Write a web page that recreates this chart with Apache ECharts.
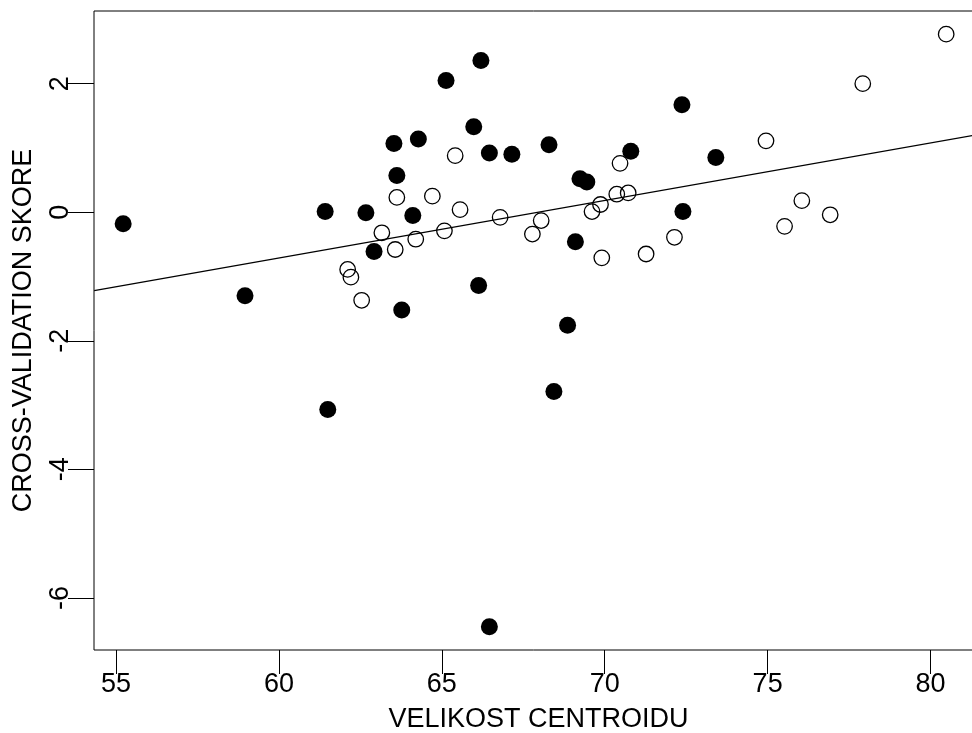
<!DOCTYPE html>
<html>
<head>
<meta charset="utf-8">
<script src="https://cdn.jsdelivr.net/npm/echarts@6/dist/echarts.min.js"></script>
<style>
  html, body { margin: 0; padding: 0; background: #fff; }
  #chart_1 { width: 972px; height: 733px; }
</style>
</head>
<body>
<div id="chart_1"></div>
<script>
// filled points
var filledX = [55.22, 58.96, 61.42, 61.50, 62.67, 62.92, 63.53, 63.62, 63.77, 64.11, 64.28, 65.13, 65.98, 66.20,
               66.13, 66.46, 66.46, 67.15, 68.29, 68.44, 68.86, 69.10, 69.24, 69.45, 70.80, 72.37, 72.40, 73.41]
var filledY = [-0.18, -1.30, 0.01, -3.07, -0.01, -0.61, 1.07, 0.57, -1.52, -0.05, 1.14, 2.05, 1.33, 2.36,
               -1.14, 0.92, -6.45, 0.90, 1.05, -2.79, -1.76, -0.46, 0.52, 0.47, 0.95, 1.67, 0.01, 0.85]
// open points
var openX = [62.11, 62.21, 62.54, 63.16, 63.57, 63.62, 64.20, 64.71, 65.08, 65.41, 65.56, 66.79, 67.78, 68.05,
             69.61, 69.87, 69.91, 70.37, 70.47, 70.72, 71.27, 72.14, 74.95, 75.52, 76.05, 76.92, 77.92, 80.48]
var openY = [-0.89, -1.01, -1.37, -0.32, -0.58, 0.23, -0.42, 0.25, -0.29, 0.88, 0.04, -0.08, -0.34, -0.13,
             0.01, 0.12, -0.71, 0.28, 0.76, 0.30, -0.65, -0.39, 1.11, -0.22, 0.18, -0.04, 2.00, 2.77]
// regression line ends
var lineX = [54.33, 81.61]
var lineY = [-1.22, 1.22]
// ticks
var xTicks = [55, 60, 65, 70, 75, 80]
var yTicks = [-6, -4, -2, 0, 2]

var font = 'Liberation Sans, Arial, sans-serif'

function pairs(xs, ys) {
    var out = []
    for (var i = 0; i < xs.length; i++) {
        out.push([xs[i], ys[i]])
    }
    return out
}

var char1 = echarts.init(document.getElementById('chart_1'))
var option1 = {
    animation: false,
    backgroundColor: '#fff',
    grid: {
        left: 94,
        top: 11,
        right: -11,
        bottom: 83,
        outerBoundsMode: 'none',
        containLabel: false,
        show: true,
        borderColor: '#000',
        borderWidth: 1
    },
    xAxis: {
        type: 'value',
        min: 54.325,
        max: 81.61,
        name: 'VELIKOST CENTROIDU',
        nameLocation: 'middle',
        nameGap: 56,
        nameTextStyle: { color: '#000', fontSize: 27, fontFamily: font },
        axisLine: { show: false, onZero: false },
        splitLine: { show: false },
        axisTick: {
            show: true,
            inside: false,
            length: 24,
            customValues: xTicks,
            lineStyle: { color: '#000', width: 1 }
        },
        axisLabel: {
            customValues: xTicks,
            margin: 21,
            color: '#000',
            fontSize: 27,
            fontFamily: font
        }
    },
    yAxis: {
        type: 'value',
        min: -6.81,
        max: 3.13,
        name: 'CROSS-VALIDATION SKORE',
        nameLocation: 'middle',
        nameGap: 57,
        nameRotate: 90,
        nameTextStyle: { color: '#000', fontSize: 27, fontFamily: font },
        axisLine: { show: false, onZero: false },
        splitLine: { show: false },
        axisTick: {
            show: true,
            inside: false,
            length: 26,
            customValues: yTicks,
            lineStyle: { color: '#000', width: 1 }
        },
        axisLabel: {
            customValues: yTicks,
            rotate: 90,
            margin: 20,
            color: '#000',
            fontSize: 27,
            fontFamily: font
        }
    },
    series: [
        {
            type: 'line',
            data: pairs(lineX, lineY),
            symbol: 'none',
            silent: true,
            lineStyle: { color: '#000', width: 1.2 }
        },
        {
            type: 'scatter',
            data: pairs(filledX, filledY),
            symbol: 'circle',
            symbolSize: 17,
            itemStyle: { color: '#000', opacity: 1 }
        },
        {
            type: 'scatter',
            data: pairs(openX, openY),
            symbol: 'circle',
            symbolSize: 15.5,
            itemStyle: { color: 'rgba(0,0,0,0)', borderColor: '#000', borderWidth: 1.3, opacity: 1 }
        }
    ]
}
char1.setOption(option1)
</script>
</body>
</html>
